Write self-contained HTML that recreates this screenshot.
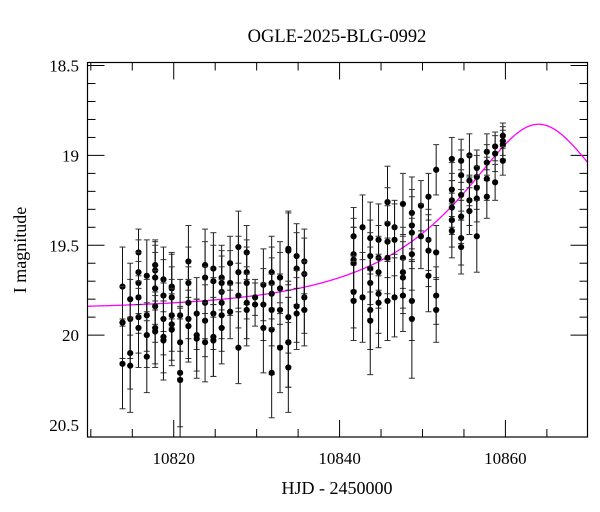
<!DOCTYPE html>
<html><head><meta charset="utf-8"><style>
html,body{margin:0;padding:0;background:#fff;}
svg{display:block;font-family:"Liberation Serif",serif;}
</style></head><body>
<svg id="chart" width="600" height="512" viewBox="0 0 600 512">
<text x="337" y="42" text-anchor="middle" font-size="18.5">OGLE-2025-BLG-0992</text>
<text transform="translate(26,250) rotate(-90)" text-anchor="middle" font-size="18">I magnitude</text>
<text x="337" y="494" text-anchor="middle" font-size="18">HJD - 2450000</text>
<g id="ticks"></g>
<g id="model"></g>
<g id="points"></g>
<rect x="87.5" y="62.5" width="500" height="374.5" fill="none" stroke="#000" stroke-width="1.2"/>
</svg>
<script>
const times=[
10813.82,10813.82,10813.82,10813.82,
10814.75,10814.75,10814.75,10814.75,
10815.75,10815.75,10815.75,10815.75,10815.75,10815.75,
10816.75,10816.75,10816.75,10816.75,
10817.76,10817.76,10817.76,10817.76,10817.76,10817.76,10817.76,
10818.76,10818.76,10818.76,10818.76,10818.76,
10819.76,10819.76,10819.76,10819.76,10819.76,10819.76,
10820.77,10820.77,10820.77,10820.77,
10821.77,10821.77,10821.77,10821.77,10821.77,
10822.77,10822.77,10822.77,
10823.78,10823.78,10823.78,10823.78,10823.78,
10824.78,10824.78,10824.78,10824.78,10824.78,
10825.78,10825.78,10825.78,10825.78,10825.78,10825.78,
10826.80,10826.80,10826.80,
10827.80,10827.80,10827.80,10827.80,
10828.80,10828.80,10828.80,10828.80,10828.80,
10829.81,10829.81,
10830.81,10830.81,10830.81,
10831.81,10831.81,10831.81,10831.81,10831.81,10831.81,
10832.82,10832.82,10832.82,10832.82,
10833.82,10833.82,10833.82,10833.82,10833.82,10833.82,
10834.82,10834.82,10834.82,10834.82,
10835.75,10835.75,10835.75,10835.75,
10841.69,10841.69,10841.69,10841.69,10841.69,10841.69,
10842.77,10842.77,
10843.70,10843.70,10843.70,10843.70,10843.70,10843.70,
10844.70,10844.70,10844.70,10844.70,10844.70,
10845.78,10845.78,10845.78,10845.78,10845.78,
10846.63,10846.63,10846.63,
10847.64,10847.64,10847.64,10847.64,10847.64,
10848.72,10848.72,10848.72,10848.72,10848.72,10848.72,
10849.81,10849.81,
10850.72,10850.72,10850.72,10850.72,
10851.65,10851.65,10851.65,10851.65,
10853.54,10853.54,10853.54,10853.54,10853.54,10853.54,
10854.66,10854.66,10854.66,10854.66,10854.66,10854.66,
10855.66,10855.66,10855.66,10855.66,
10856.55,10856.55,10856.55,10856.55,10856.55,
10857.76,10857.76,10857.76,10857.76,
10858.76,10858.76,10858.76,
10859.69,10859.69,10859.69,10859.69];
const mags=[
19.73,19.93,19.93,20.16,
19.80,19.91,20.10,20.17,
19.54,19.65,19.71,19.79,19.90,19.96,
19.67,19.89,20.00,20.12,
19.61,19.64,19.68,19.74,19.84,19.96,19.98,
19.69,19.78,19.91,20.01,20.03,
19.73,19.74,19.79,19.89,19.94,19.97,
19.89,20.04,20.21,20.25,
19.59,19.71,19.82,19.91,19.95,
19.88,20.00,20.02,
19.61,19.68,19.82,19.92,20.04,
19.63,19.70,19.88,20.01,20.03,
19.68,19.71,19.76,19.82,19.89,19.96,
19.60,19.71,19.87,
19.51,19.65,19.78,20.07,
19.54,19.65,19.71,19.82,19.86,
19.79,19.83,
19.72,19.83,19.96,
19.65,19.71,19.77,19.86,19.97,20.21,
19.68,19.74,19.86,20.07,
19.52,19.53,19.90,20.04,20.04,20.18,
19.56,19.63,19.84,19.88,
19.59,19.66,19.79,19.86,
19.45,19.55,19.58,19.60,19.76,19.81,
19.40,19.79,
19.46,19.56,19.63,19.71,19.86,19.92,
19.47,19.57,19.65,19.77,19.82,
19.26,19.38,19.48,19.57,19.81,
19.40,19.47,19.79,
19.27,19.57,19.65,19.68,19.78,
19.32,19.39,19.43,19.55,19.81,19.91,
19.28,19.45,
19.23,19.47,19.53,19.67,
19.08,19.54,19.78,19.86,
19.02,19.19,19.25,19.29,19.36,19.42,
19.03,19.11,19.22,19.34,19.46,19.51,
19.00,19.14,19.25,19.31,
19.07,19.12,19.18,19.24,19.45,
18.98,19.04,19.13,19.23,
18.95,18.99,19.15,
18.89,18.92,18.94,19.03];
const errs=[
.22,.2,.2,.25,
.2,.22,.2,.26,
.13,.18,.17,.2,.2,.22,
.2,.2,.18,.2,
.13,.17,.18,.2,.2,.2,.2,
.18,.2,.2,.2,.22,
.18,.2,.17,.2,.2,.2,
.2,.2,.3,.4,
.2,.2,.2,.22,.2,
.2,.2,.22,
.2,.2,.2,.2,.22,
.2,.2,.2,.22,.2,
.18,.18,.2,.2,.2,.2,
.15,.18,.15,
.2,.2,.18,.2,
.15,.18,.2,.2,.2,
.1,.12,
.2,.2,.25,
.2,.2,.2,.2,.25,.25,
.2,.2,.2,.25,
.2,.22,.2,.25,.25,.25,
.18,.2,.2,.2,
.18,.2,.2,.2,
.16,.2,.18,.2,.2,.22,
.18,.25,
.2,.2,.2,.2,.22,.3,
.2,.18,.2,.22,.25,
.2,.2,.2,.2,.22,
.15,.2,.22,
.17,.17,.2,.2,.2,
.2,.2,.2,.2,.22,.33,
.14,.18,
.13,.17,.2,.2,
.14,.15,.16,.18,
.12,.15,.15,.15,.15,.15,
.12,.14,.14,.15,.15,.15,
.12,.14,.14,.13,
.1,.12,.12,.13,.2,
.1,.1,.12,.12,
.08,.1,.1,
.07,.08,.08,.08];
const xTickLabels=[10820,10840,10860];
const yTickLabels=["18.5","19","19.5","20","20.5"];
const modelParams=[10864.0,19.0,0.41,19.86]; // t0, tE, u0, baseline I

const NS="http://www.w3.org/2000/svg";
const X0=87.5,X1=587.5,Y0=62.5,Y1=437;
const tMin=10809.6,tMax=10869.9,mTop=18.483,mBot=20.567;
function xs(t){return X0+(t-tMin)/(tMax-tMin)*(X1-X0);}
function ys(m){return Y0+(m-mTop)/(mBot-mTop)*(Y1-Y0);}
function mk(tag,attrs,parent){const e=document.createElementNS(NS,tag);for(const k in attrs)e.setAttribute(k,attrs[k]);parent.appendChild(e);return e;}

const tk=document.getElementById('ticks');
for(let t=10810;t<=10869;t+=5){
  const major=(t%20===0);const L=major?17:8;const x=xs(t);
  let a=mk('line',{x1:x,x2:x,y1:Y1,y2:Y1-L,stroke:'#000','stroke-width':1},tk);
  
  
  let b=mk('line',{x1:x,x2:x,y1:Y0,y2:Y0+L,stroke:'#000','stroke-width':1},tk);
  
  
}
xTickLabels.forEach(v=>{
  const e=mk('text',{x:xs(v),y:464,'text-anchor':'middle','font-size':17},tk);
  e.textContent=v;
  
  
});
for(let i=5;i<=20;i++){
  const m=18.5+i*0.1-0.5;const major=(i%5===0);const L=major?17:8;const y=ys(m);
  let a=mk('line',{x1:X0,x2:X0+L,y1:y,y2:y,stroke:'#000','stroke-width':1},tk);
  
  
  let b=mk('line',{x1:X1,x2:X1-L,y1:y,y2:y,stroke:'#000','stroke-width':1},tk);
  
  
}
yTickLabels.forEach(s=>{
  const e=mk('text',{x:79,y:ys(parseFloat(s))+6,'text-anchor':'end','font-size':17},tk);
  e.textContent=s;
  
  
});

// model curve
function modelMag(t){
  const [t0,tE,u0,Ib]=modelParams;
  const tau=(t-t0)/tE;const u=Math.sqrt(u0*u0+tau*tau);
  const A=(u*u+2)/(u*Math.sqrt(u*u+4));
  return Ib-2.5*Math.log10(A);
}
let d='';
for(let px=X0;px<=X1;px+=1){
  const t=tMin+(px-X0)/(X1-X0)*(tMax-tMin);
  d+=(d?'L':'M')+px.toFixed(1)+','+ys(modelMag(t)).toFixed(2);
}
const mp=mk('path',{d:d,fill:'none',stroke:'#ff00ff','stroke-width':1.3},document.getElementById('model'));



// data points
const pg=document.getElementById('points');
for(let i=0;i<times.length;i++){
  const x=xs(times[i]),y=ys(mags[i]);
  const yt=Math.max(Y0,ys(mags[i]-errs[i])),yb=Math.min(Y1,ys(mags[i]+errs[i]));
  const g=mk('g',{},pg);
  
  
  mk('line',{x1:x,x2:x,y1:yt,y2:yb,stroke:'#111','stroke-width':1},g);
  if(yt>Y0)mk('line',{x1:x-3,x2:x+3,y1:yt,y2:yt,stroke:'#333','stroke-width':1},g);
  if(yb<Y1)mk('line',{x1:x-3,x2:x+3,y1:yb,y2:yb,stroke:'#333','stroke-width':1},g);
  mk('circle',{cx:x,cy:y,r:3.1,fill:'#000'},g);
}
</script>
</body></html>
